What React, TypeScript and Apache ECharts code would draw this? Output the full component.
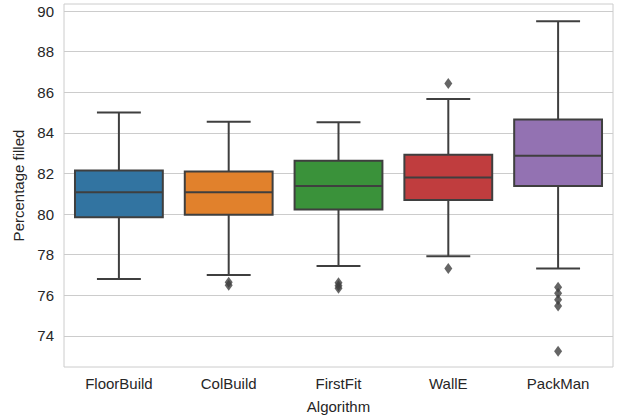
import React, { useEffect, useRef } from "react";
import * as echarts from "echarts";

const categories = ["FloorBuild", "ColBuild", "FirstFit", "WallE", "PackMan"];
// [lower whisker, Q1, median, Q3, upper whisker]
const boxStats = [
  [76.8, 79.84, 81.08, 82.15, 85.0],
  [77.0, 79.97, 81.08, 82.1, 84.55],
  [77.45, 80.23, 81.39, 82.63, 84.53],
  [77.92, 80.69, 81.8, 82.92, 85.67],
  [77.32, 81.39, 82.87, 84.66, 89.5],
];
const outlierCategory = [1, 1, 2, 2, 2, 3, 3, 4, 4, 4, 4, 4];
const outlierValues = [76.65, 76.5, 76.62, 76.47, 76.35, 86.44, 77.32, 76.4, 76.1, 75.78, 75.48, 73.25];
const boxColors = ["#3274a1", "#e1812c", "#3a923a", "#c03d3e", "#9372b2"];
const yTicks = [74, 76, 78, 80, 82, 84, 86, 88, 90];

export default function App() {
  const ref = useRef<HTMLDivElement>(null);
  useEffect(() => {
    if (!ref.current) return;
    const chart = echarts.init(ref.current, null, { renderer: "svg" });
    const lineColor = "#3f3f3f";
    const font = "'Liberation Sans', Arial, sans-serif";
    chart.setOption({
      animation: false,
      backgroundColor: "#ffffff",
      grid: {
        left: 64,
        right: 5,
        top: 4,
        bottom: 53,
        show: true,
        borderColor: "#cccccc",
        borderWidth: 1,
      },
      xAxis: {
        type: "category",
        data: categories,
        name: "Algorithm",
        nameLocation: "middle",
        nameGap: 32,
        nameTextStyle: { color: "#262626", fontSize: 15, fontFamily: font },
        axisLine: { show: false },
        axisTick: { show: false },
        axisLabel: { color: "#262626", fontSize: 15, fontFamily: font, margin: 9 },
        splitLine: { show: false },
      },
      yAxis: {
        type: "value",
        min: 72.47,
        max: 90.35,
        name: "Percentage filled",
        nameLocation: "middle",
        nameGap: 38,
        nameTextStyle: { color: "#262626", fontSize: 15, fontFamily: font },
        axisLine: { show: false },
        axisTick: { show: false, customValues: yTicks },
        axisLabel: { color: "#262626", fontSize: 15, fontFamily: font, margin: 10, customValues: yTicks },
        splitLine: { show: true, lineStyle: { color: "#cccccc", width: 1 } },
      },
      series: [
        {
          type: "custom",
          data: boxStats.map((s, i) => [i, ...s]),
          encode: { x: 0, y: [1, 2, 3, 4, 5] },
          z: 2,
          renderItem: (params: any, api: any) => {
            const i = api.value(0);
            const bw = api.size([1, 0])[0] * 0.8;
            const lo = api.coord([i, api.value(1)]);
            const q1 = api.coord([i, api.value(2)]);
            const med = api.coord([i, api.value(3)]);
            const q3 = api.coord([i, api.value(4)]);
            const hi = api.coord([i, api.value(5)]);
            const cx = q1[0];
            const ls = { stroke: lineColor, lineWidth: 2, fill: null };
            return {
              type: "group",
              children: [
                { type: "line", shape: { x1: cx, y1: q1[1], x2: cx, y2: lo[1] }, style: ls },
                { type: "line", shape: { x1: cx, y1: q3[1], x2: cx, y2: hi[1] }, style: ls },
                { type: "line", shape: { x1: cx - bw / 4, y1: lo[1], x2: cx + bw / 4, y2: lo[1] }, style: ls },
                { type: "line", shape: { x1: cx - bw / 4, y1: hi[1], x2: cx + bw / 4, y2: hi[1] }, style: ls },
                {
                  type: "rect",
                  shape: { x: cx - bw / 2, y: q3[1], width: bw, height: q1[1] - q3[1] },
                  style: { fill: boxColors[i], stroke: lineColor, lineWidth: 2 },
                },
                { type: "line", shape: { x1: cx - bw / 2, y1: med[1], x2: cx + bw / 2, y2: med[1] }, style: ls },
              ],
            };
          },
        },
        {
          type: "scatter",
          data: outlierValues.map((v, k) => [outlierCategory[k], v]),
          symbol: "diamond",
          symbolSize: [8, 11],
          itemStyle: { color: lineColor },
          z: 3,
        },
      ],
    });
    return () => chart.dispose();
  }, []);
  return <div ref={ref} style={{ width: 618, height: 420, position: "absolute", left: 0, top: 0 }} />;
}
